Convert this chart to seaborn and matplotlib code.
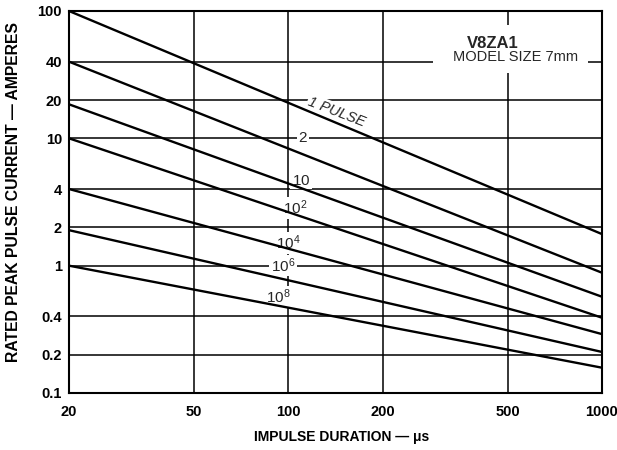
import matplotlib
matplotlib.use("Agg")
import matplotlib.pyplot as plt
from matplotlib.patches import Rectangle
from matplotlib.ticker import FixedLocator, NullLocator
import numpy as np
import pandas as pd
import seaborn as sns

# Pulse-rating curves: rated current at the two ends of the duration range
durations_us = [20, 1000]
pulse_labels = ["1", "2", "10", "10^2", "10^4", "10^6", "10^8"]
current_at_20us = [100, 40, 18.5, 10, 4, 1.9, 1.0]
current_at_1000us = [1.77, 0.88, 0.57, 0.39, 0.29, 0.21, 0.158]

x_ticks = [20, 50, 100, 200, 500, 1000]
x_tick_labels = ["20", "50", "100", "200", "500", "1000"]
y_ticks = [0.1, 0.2, 0.4, 1, 2, 4, 10, 20, 40, 100]
y_tick_labels = ["0.1", "0.2", "0.4", "1", "2", "4", "10", "20", "40", "100"]

rows = []
for name, start, end in zip(pulse_labels, current_at_20us, current_at_1000us):
    rows.append({"pulses": name, "duration": durations_us[0], "current": start})
    rows.append({"pulses": name, "duration": durations_us[1], "current": end})
df = pd.DataFrame(rows)

sns.set_theme(style="white")
plt.rcParams["font.family"] = ["Liberation Sans", "DejaVu Sans"]
plt.rcParams["mathtext.fontset"] = "custom"
plt.rcParams["mathtext.it"] = "Liberation Sans:italic"
plt.rcParams["mathtext.rm"] = "Liberation Sans"

fig = plt.figure(figsize=(6.17, 4.5), dpi=100)
ax = fig.add_axes([69 / 617, 1 - 393 / 450, 533 / 617, 382 / 450])
ax.set_xscale("log")
ax.set_yscale("log")

sns.lineplot(data=df, x="duration", y="current", hue="pulses",
             palette=["black"] * len(pulse_labels), legend=False,
             linewidth=1.7, ax=ax, zorder=5)

ax.set_xlim(20, 1000)
ax.set_ylim(0.1, 100)
ax.xaxis.set_major_locator(FixedLocator(x_ticks))
ax.xaxis.set_minor_locator(NullLocator())
ax.yaxis.set_major_locator(FixedLocator(y_ticks))
ax.yaxis.set_minor_locator(NullLocator())
ax.set_xticklabels(x_tick_labels, fontsize=10.5, fontweight="bold")
ax.set_yticklabels(y_tick_labels, fontsize=10.5, fontweight="bold")
ax.tick_params(axis="both", length=0, colors="black")
ax.tick_params(axis="x", pad=9)
ax.tick_params(axis="y", pad=5)

ax.set_axisbelow(True)
ax.grid(True, which="major", color="black", linewidth=1.1)
for sp in ax.spines.values():
    sp.set_color("black")
    sp.set_linewidth(1.5)

ax.set_xlabel("IMPULSE DURATION — μs", fontsize=10,
              fontweight="bold", color="black")
ax.set_ylabel("RATED PEAK PULSE CURRENT — AMPERES", fontsize=11.3,
              fontweight="bold", color="black")
ax.xaxis.set_label_coords(0.512, -0.098)
ax.yaxis.set_label_coords(-0.09, 0.526)

# Curve labels, each on a white patch that breaks the grid behind it
box = dict(facecolor="white", edgecolor="none", pad=1.0)
ax.text(143, 16.1, "1 PULSE", rotation=-21, style="italic", fontsize=10.5,
        ha="center", va="center", bbox=box, zorder=4, rotation_mode="anchor")
curve_tags = [
    (111.4, 10.0, r"$\mathit{2}$"),
    (109.8, 4.62, r"$\mathit{10}$"),
    (105.1, 2.84, r"$\mathit{10^{2}}$"),
    (99.8, 1.51, r"$\mathit{10^{4}}$"),
    (96.2, 1.0, r"$\mathit{10^{6}}$"),
    (92.7, 0.568, r"$\mathit{10^{8}}$"),
]
for x, y, s in curve_tags:
    ax.text(x, y, s, fontsize=11, ha="center", va="center",
            bbox=box, zorder=4)

# Model caption
ax.add_patch(Rectangle((0.683, 0.838), 0.291, 0.125, transform=ax.transAxes,
                       facecolor="white", edgecolor="none", zorder=1))
ax.text(0.795, 0.916, "V8ZA1", transform=ax.transAxes, fontsize=12,
        fontweight="bold", ha="center", va="center", zorder=4)
ax.text(0.837, 0.880, "MODEL SIZE 7mm", transform=ax.transAxes, fontsize=10.5,
        ha="center", va="center", zorder=4)

fig.savefig("out.png", dpi=100, facecolor="white")
